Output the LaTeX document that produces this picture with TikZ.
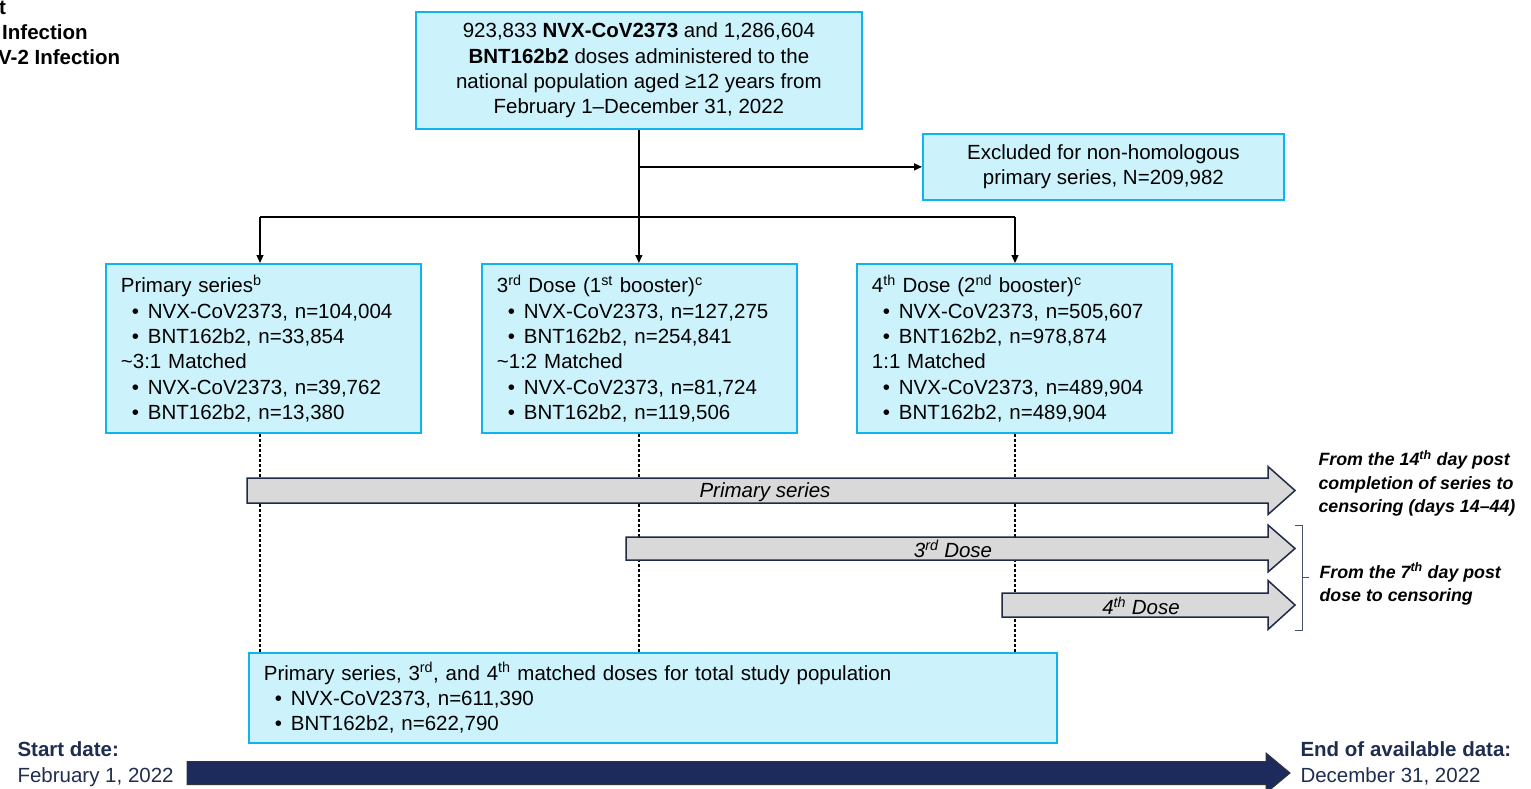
\documentclass[tikz,border=0pt]{standalone}
\usepackage{fontspec}
\setmainfont{Liberation Sans}
\usetikzlibrary{arrows.meta}
\definecolor{boxfill}{HTML}{CCF2FC}
\definecolor{boxline}{HTML}{10B4EC}
\definecolor{grayfill}{HTML}{D9D9D9}
\definecolor{arrline}{HTML}{1F2A44}
\definecolor{navyfill}{HTML}{1D2A5C}
\definecolor{navytext}{HTML}{1F2D50}
\definecolor{bracecol}{HTML}{44546A}
\newcommand\bitem{\hspace*{11pt}\makebox[16pt][l]{\textbullet}}
\newcommand\fs{\fontsize{20.5}{25.3}\selectfont}
\newcommand\fsr{\fontsize{17.8}{23.5}\selectfont}
\newcommand\fatarrow[7]{%
  \draw[#1] (#2,#4-#5) -- (#3-#7,#4-#5) -- (#3-#7,#4-#6) -- (#3,#4) -- (#3-#7,#4+#6) -- (#3-#7,#4+#5) -- (#2,#4+#5) -- cycle;}
\begin{document}
\begin{tikzpicture}[x=1pt,y=-1pt,
  cbox/.style={draw=boxline, fill=boxfill, line width=1.8pt, inner sep=0pt},
  lbox/.style={cbox, anchor=north west, align=left, inner xsep=15pt, font=\fs},
  arr/.style={-{Triangle[length=8pt,width=7pt]}, line width=1.2pt},
  conn/.style={line width=1.2pt},
  dashline/.style={line width=1.2pt, dash pattern=on 3pt off 2pt},
  grayarrow/.style={fill=grayfill, draw=arrline, line width=1.5pt},
  navyarrow/.style={fill=navyfill, draw=black!80, line width=1pt},
  lbl/.style={font=\itshape\fs},
  side/.style={font=\bfseries\itshape\fsr, align=left, anchor=west},
  datetxt/.style={anchor=base west, text=navytext, font=\fs}]
\useasboundingbox (0,0) rectangle (1531,789);

% cut-off text at top left
\node[anchor=base west, font=\bfseries\fs, inner sep=0pt] (tl1) at (-1,15) {t};
\node[anchor=base west, font=\bfseries\fs, inner sep=0pt] (tl2) at (2,40) {Infection};
\node[anchor=base west, font=\bfseries\fs, inner sep=0pt] (tl3) at (-2,65) {V-2 Infection};

% top box
\node[cbox, anchor=north west, minimum width=446pt, minimum height=117pt, align=center, font=\fs] (top) at (415,11)
 {923,833 \textbf{NVX-CoV2373} and 1,286,604\\ \textbf{BNT162b2} doses administered to the\\ national population aged ≥12 years from\\ February 1–December 31, 2022};

% excluded box
\node[cbox, anchor=north west, minimum width=361pt, minimum height=66pt, align=center, font=\fs] (excl) at (922,133)
 {Excluded for non-homologous\\ primary series, N=209,982};

% three boxes
\node[lbox, text width=285pt, minimum height=169pt] (b1) at (105,263)
 {Primary series\textsuperscript{b}\\
  \bitem NVX-CoV2373, n=104,004\\
  \bitem BNT162b2, n=33,854\\
  \textasciitilde3:1 Matched\\
  \bitem NVX-CoV2373, n=39,762\\
  \bitem BNT162b2, n=13,380};
\node[lbox, text width=285pt, minimum height=169pt] (b2) at (481,263)
 {3\textsuperscript{rd} Dose (1\textsuperscript{st} booster)\textsuperscript{c}\\
  \bitem NVX-CoV2373, n=127,275\\
  \bitem BNT162b2, n=254,841\\
  \textasciitilde1:2 Matched\\
  \bitem NVX-CoV2373, n=81,724\\
  \bitem BNT162b2, n=119,506};
\node[lbox, text width=285pt, minimum height=169pt] (b3) at (856,263)
 {4\textsuperscript{th} Dose (2\textsuperscript{nd} booster)\textsuperscript{c}\\
  \bitem NVX-CoV2373, n=505,607\\
  \bitem BNT162b2, n=978,874\\
  1:1 Matched\\
  \bitem NVX-CoV2373, n=489,904\\
  \bitem BNT162b2, n=489,904};

% bottom box
\node[lbox, text width=778pt, minimum height=90pt] (bot) at (248,652)
 {Primary series, 3\textsuperscript{rd}, and 4\textsuperscript{th} matched doses for total study population\\
  \bitem NVX-CoV2373, n=611,390\\
  \bitem BNT162b2, n=622,790};

% connectors
\coordinate (j1) at (260,217);
\coordinate (j3) at (1015,217);
\draw[arr] (top.south) -- (top.south |- b2.north);
\draw[arr] (top.south |- excl.west) -- (excl.west);
\draw[conn] (j1) -- (j3);
\draw[arr] (j1) -- (j1 |- b1.north);
\draw[arr] (j3) -- (j3 |- b3.north);

% dashed timelines
\draw[dashline] (j1 |- b1.south) -- (j1 |- bot.north);
\draw[dashline] (top.south |- b2.south) -- (top.south |- bot.north);
\draw[dashline] (j3 |- b3.south) -- (j3 |- bot.north);

% gray arrows
\fatarrow{grayarrow}{247}{1295}{490.5}{12.5}{24}{27}
\fatarrow{grayarrow}{626}{1295}{548.5}{11.5}{23.5}{27}
\fatarrow{grayarrow}{1002}{1295}{605}{12}{24.5}{27}
\node[lbl] (lp) at (765,492) {Primary series};
\node[lbl] (l3) at (953,549) {3\textsuperscript{rd} Dose};
\node[lbl] (l4) at (1141,606) {4\textsuperscript{th} Dose};

% bracket
\draw[bracecol, line width=1pt] (1295,525) -- (1302,525) -- (1302,630) -- (1295,630);
\draw[bracecol, line width=1pt] (1302,577) -- (1309,577);

% side notes
\node[side] (n1) at (1315,483.5) {From the 14\textsuperscript{th} day post\\ completion of series to\\ censoring (days 14–44)};
\node[side] (n2) at (1316,584) {From the 7\textsuperscript{th} day post\\ dose to censoring};

% navy timeline
\fatarrow{navyarrow}{187}{1290}{773}{11.5}{20}{24}
\node[datetxt, font=\bfseries\fs] (sd1) at (14,756) {Start date:};
\node[datetxt] (sd2) at (14,782) {February 1, 2022};
\node[datetxt, font=\bfseries\fs] (ed1) at (1297,756) {End of available data:};
\node[datetxt] (ed2) at (1297,782) {December 31, 2022};
\end{tikzpicture}
\end{document}
